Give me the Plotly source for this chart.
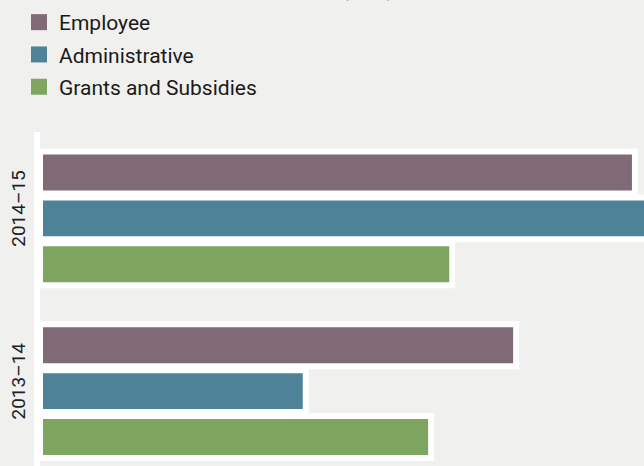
import plotly.graph_objects as go

# ---- data ----
years = ["2014–15", "2013–14"]
series_names = ["Employee", "Administrative", "Grants and Subsidies"]
employee = [118.2, 94.6]
administrative = [126.0, 52.8]
grants = [81.9, 77.7]
series_values = [employee, administrative, grants]
colors = ["#806a75", "#4e8298", "#7ea660"]
title_text = "Expenditure Components ($m)"

BG = "#f0f0ee"
FONT = "Roboto"

fig = go.Figure()
for name, vals, col in zip(series_names, series_values, colors):
    fig.add_trace(go.Bar(
        y=years, x=vals, name=name, orientation="h",
        marker=dict(color=col, line=dict(color="white", width=6)),
        showlegend=False, hoverinfo="x+name",
    ))
# legend entries (square swatches)
for i, (name, col) in enumerate(zip(series_names, colors)):
    fig.add_trace(go.Scatter(
        x=[None], y=[None], mode="markers", name=name,
        marker=dict(symbol="square", size=16, color=col),
        legendgroup=f"g{i}", showlegend=True,
    ))

fig.update_layout(
    width=644, height=466,
    margin=dict(l=40, r=0, t=132, b=0, autoexpand=False),
    paper_bgcolor=BG, plot_bgcolor=BG,
    barmode="group", bargap=0.202, bargroupgap=0.087,
    font=dict(family=FONT, color="#222222"),
    legend=dict(
        xref="container", yref="container",
        x=19/644, y=1 - 2/466, xanchor="left", yanchor="top",
        font=dict(size=21, color="#1a1a1a", family=FONT),
        bgcolor="rgba(0,0,0,0)", tracegroupgap=2, traceorder="grouped",
    ),
    xaxis=dict(range=[0, 120], visible=False, fixedrange=True),
    yaxis=dict(
        type="category", categoryorder="array", categoryarray=years,
        range=[1.4335, -0.5],
        showline=True, linecolor="white", linewidth=6,
        showgrid=False, zeroline=False, ticks="",
        tickangle=-90, tickfont=dict(size=19, color="#222222", family=FONT),
        ticklabelstandoff=1, ticklabelshift=7,
    ),
    annotations=[dict(
        text=f"<b>{title_text}</b>", xref="paper", yref="paper",
        x=-3/604, y=1 + 129.5/334, xanchor="left", yanchor="bottom",
        showarrow=False, font=dict(size=26, color="#7b6672", family=FONT),
    )],
)

fig.write_html("out.html")
